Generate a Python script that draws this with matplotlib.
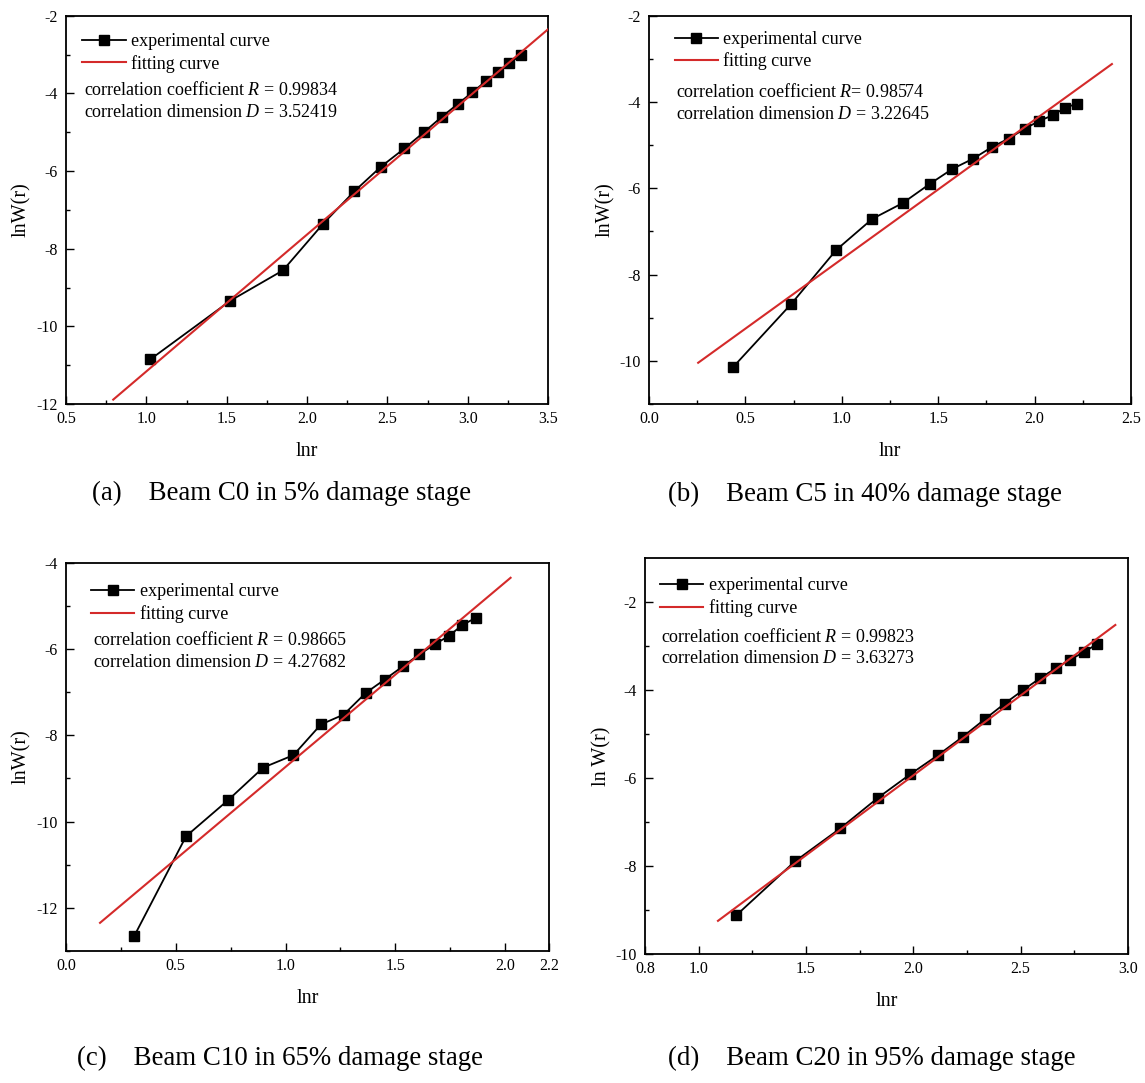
import matplotlib
matplotlib.use("Agg")
import matplotlib.pyplot as plt
from matplotlib.lines import Line2D
import numpy as np

plt.rcParams['font.family'] = ['Liberation Serif', 'DejaVu Serif']
plt.rcParams['mathtext.fontset'] = 'custom'
plt.rcParams['mathtext.it'] = 'Liberation Serif:italic'
plt.rcParams['mathtext.rm'] = 'Liberation Serif'

# ---------------- data ----------------
a_x = [1.025, 1.523, 1.85, 2.10, 2.295, 2.46, 2.606, 2.728, 2.84, 2.94, 3.03, 3.115, 3.19, 3.26, 3.33]
a_y = [-10.85, -9.34, -8.56, -7.36, -6.52, -5.89, -5.42, -5.0, -4.6, -4.27, -3.97, -3.68, -3.44, -3.23, -3.01]
a_fit_x = [0.794, 3.5]
a_D, a_b, a_R = 3.52419, -14.685, "0.99834"

b_x = [0.435, 0.738, 0.971, 1.158, 1.317, 1.456, 1.574, 1.683, 1.78, 1.865, 1.949, 2.023, 2.093, 2.16, 2.22]
b_y = [-10.15, -8.68, -7.43, -6.71, -6.34, -5.90, -5.55, -5.31, -5.04, -4.85, -4.62, -4.44, -4.31, -4.13, -4.04]
b_fit_x = [0.255, 2.401]
b_D, b_b, b_R = 3.22645, -10.867, "0.98574"

c_x = [0.31, 0.547, 0.739, 0.898, 1.036, 1.161, 1.265, 1.365, 1.451, 1.535, 1.61, 1.68, 1.746, 1.805, 1.866]
c_y = [-12.66, -10.34, -9.50, -8.75, -8.46, -7.75, -7.52, -7.02, -6.71, -6.40, -6.125, -5.89, -5.69, -5.445, -5.28]
c_fit_x = [0.155, 2.025]
c_D, c_b, c_R = 4.27682, -13.01, "0.98665"

d_x = [1.176, 1.448, 1.659, 1.836, 1.985, 2.116, 2.232, 2.332, 2.426, 2.51, 2.589, 2.663, 2.732, 2.795, 2.856]
d_y = [-9.11, -7.89, -7.14, -6.44, -5.91, -5.47, -5.05, -4.66, -4.30, -4.0, -3.73, -3.50, -3.30, -3.13, -2.95]
d_fit_x = [1.09, 2.941]
d_D, d_b, d_R = 3.63273, -13.199, "0.99823"

a_xticks = [0.5, 1.0, 1.5, 2.0, 2.5, 3.0, 3.5]
a_xlabels = ["0.5", "1.0", "1.5", "2.0", "2.5", "3.0", "3.5"]
a_yticks = [-12, -10, -8, -6, -4, -2]
b_xticks = [0.0, 0.5, 1.0, 1.5, 2.0, 2.5]
b_xlabels = ["0.0", "0.5", "1.0", "1.5", "2.0", "2.5"]
b_yticks = [-10, -8, -6, -4, -2]
c_xticks = [0.0, 0.5, 1.0, 1.5, 2.0, 2.2]
c_xlabels = ["0.0", "0.5", "1.0", "1.5", "2.0", "2.2"]
c_yticks = [-12, -10, -8, -6, -4]
d_xticks = [0.75, 1.0, 1.5, 2.0, 2.5, 3.0]
d_xlabels = ["0.8", "1.0", "1.5", "2.0", "2.5", "3.0"]
d_yticks = [-10, -8, -6, -4, -2]

captions = ["(a)    Beam C0 in 5% damage stage", "(b)    Beam C5 in 40% damage stage",
            "(c)    Beam C10 in 65% damage stage", "(d)    Beam C20 in 95% damage stage"]
ylabels = ["lnW(r)", "lnW(r)", "lnW(r)", "ln W(r)"]

W, H = 1145, 1083
fig = plt.figure(figsize=(W / 100, H / 100), dpi=100)

RED = '#d42a2a'

panels = [
    dict(box=(66, 15.7, 548, 404), x=a_x, y=a_y, fx=a_fit_x, D=a_D, b=a_b, R=a_R, Rsep=" = ",
         xlim=(0.5, 3.5), ylim=(-12, -2), xt=a_xticks, xl=a_xlabels, yt=a_yticks,
         xminor=np.arange(0.75, 3.5, 0.5), yminor=np.arange(-11, -2, 2),
         rows=(0.929, 0.871, 0.809, 0.750), tx=0.037, ylx=45),
    dict(box=(649, 15.7, 1131, 404), x=b_x, y=b_y, fx=b_fit_x, D=b_D, b=b_b, R=b_R, Rsep="= ",
         xlim=(0.0, 2.5), ylim=(-11, -2), xt=b_xticks, xl=b_xlabels, yt=b_yticks,
         xminor=np.arange(0.25, 2.5, 0.5), yminor=np.arange(-11, -2, 2),
         rows=(0.934, 0.877, 0.803, 0.746), tx=0.056, ylx=44),
    dict(box=(66, 562.7, 549, 951), x=c_x, y=c_y, fx=c_fit_x, D=c_D, b=c_b, R=c_R, Rsep=" = ",
         xlim=(0.0, 2.2), ylim=(-13, -4), xt=c_xticks, xl=c_xlabels, yt=c_yticks,
         xminor=np.arange(0.25, 2.0, 0.5), yminor=np.arange(-13, -4, 2),
         rows=(0.921, 0.862, 0.801, 0.742), tx=0.055, ylx=45),
    dict(box=(645, 558.3, 1128, 954.3), x=d_x, y=d_y, fx=d_fit_x, D=d_D, b=d_b, R=d_R, Rsep=" = ",
         xlim=(0.75, 3.0), ylim=(-10, -1), xt=d_xticks, xl=d_xlabels, yt=d_yticks,
         xminor=np.arange(1.25, 3.0, 0.5), yminor=np.arange(-9, -1, 2),
         rows=(0.928, 0.869, 0.802, 0.746), tx=0.034, ylx=44),
]

cap_pos = [(92, 493), (668, 494), (77, 1058), (668, 1058)]

for p, cap, cp, yl in zip(panels, captions, cap_pos, ylabels):
    l, t, r, bt = p['box']
    ax = fig.add_axes([l / W, 1 - bt / H, (r - l) / W, (bt - t) / H])
    hpx = bt - t
    wpx = r - l
    fx = np.array(p['fx'])
    ax.plot(p['x'], p['y'], color='black', lw=1.3, marker='s', ms=6.5,
            markerfacecolor='black', markeredgecolor='black', zorder=3)
    ax.plot(fx, p['D'] * fx + p['b'], color=RED, lw=1.5, zorder=4)
    ax.set_xlim(*p['xlim'])
    ax.set_ylim(*p['ylim'])
    ax.set_xticks(p['xt'])
    ax.set_xticklabels(p['xl'])
    ax.set_yticks(p['yt'])
    ax.set_yticklabels([str(v) for v in p['yt']])
    ax.set_xticks(p['xminor'], minor=True)
    ax.set_yticks(p['yminor'], minor=True)
    ax.tick_params(which='both', direction='in', labelsize=11.5, width=1.0)
    ax.tick_params(axis='x', which='both', pad=5)
    ax.tick_params(axis='y', which='both', pad=6)
    ax.tick_params(which='major', length=5.5)
    ax.tick_params(which='minor', length=3)
    for s in ax.spines.values():
        s.set_linewidth(1.3)
    ax.set_xlabel('lnr', fontsize=14.5)
    ax.set_ylabel(yl, fontsize=14.5)
    ax.xaxis.set_label_coords(0.5, -38 / hpx)
    ax.yaxis.set_label_coords(-(p['ylx'] - 10) / wpx, 0.5)

    handles = [Line2D([], [], color='black', lw=1.3, marker='s', ms=6.5),
               Line2D([], [], color=RED, lw=1.5)]
    fs = 13
    rows = p['rows']
    spacing_px = (rows[0] - rows[1]) * hpx
    fs_px = fs * 100 / 72
    ax.legend(handles, ['experimental curve', 'fitting curve'], loc='upper left',
              bbox_to_anchor=(p['tx'] - 0.003, rows[0] + 0.55 * fs_px / hpx),
              frameon=False, fontsize=fs, borderpad=0, borderaxespad=0,
              handlelength=2.4, handletextpad=0.3,
              labelspacing=(spacing_px - fs_px) / fs_px)
    ax.text(p['tx'], rows[2], 'correlation coefficient $\\mathit{R}$' + p['Rsep'] + p['R'],
            transform=ax.transAxes, fontsize=fs, va='center', ha='left')
    ax.text(p['tx'], rows[3], 'correlation dimension $\\mathit{D}$ = %.5f' % p['D'],
            transform=ax.transAxes, fontsize=fs, va='center', ha='left')

    fig.text(cp[0] / W, 1 - cp[1] / H, cap, fontsize=19.4, ha='left', va='center')

fig.savefig('out.png', dpi=100)
